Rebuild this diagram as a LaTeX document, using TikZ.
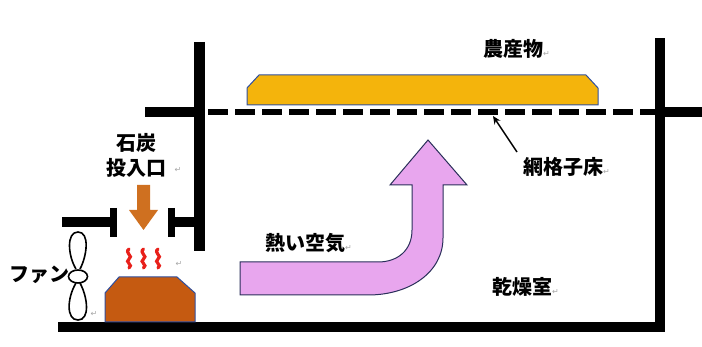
\documentclass[tikz,border=0pt]{standalone}
\usepackage{fontspec}
\setmainfont{Noto Sans CJK JP}
\newfontfamily\markfont{DejaVu Sans}
\usetikzlibrary{arrows.meta}

\definecolor{cropfill}{HTML}{F4B40C}
\definecolor{edgeblue}{HTML}{2F4F9F}
\definecolor{furnacefill}{HTML}{C55A11}
\definecolor{coalarrow}{HTML}{CF7020}
\definecolor{airfill}{HTML}{E8A6EE}
\definecolor{airedge}{HTML}{2A2F5A}
\definecolor{heatred}{HTML}{E8201A}

\tikzset{
  wall/.style={line width=10pt, black},
  chutepost/.style={line width=7pt, black},
  grid/.style={line width=6pt, black, dash pattern=on 20pt off 7pt},
  label/.style={font=\fontsize{20}{25}\selectfont\bfseries, inner sep=0pt, anchor=west},
  retmark/.style={font=\markfont\fontsize{8}{8}\selectfont, text=black!35, inner sep=0pt},
  heat/.style={heatred, line width=3.2pt, line cap=round},
  fanline/.style={black, line width=1.6pt},
}
\newcommand{\retm}{{\markfont\mdseries\fontsize{8}{8}\selectfont\textcolor{black!35}{↵}}}

\begin{document}
\begin{tikzpicture}[x=1pt, y=-1pt]
\useasboundingbox (0,0) rectangle (702,347);

% drying chamber: floor, right wall and stubs
\draw[wall, line join=miter] (58,327) -- (660,327) -- (660,38);
\draw[wall] (655,112) -- (702,112);
\draw[wall] (145,112) -- (204,112);
\draw[wall, line width=11pt] (199,42) -- (199,251);

% mesh floor
\draw[grid] (208,112) -- (655,112);
\coordinate (gridpt) at (493,116);

% coal feed chute
\draw[wall] (62,222) -- (111,222);
\draw[chutepost] (113.5,208) -- (113.5,237);
\draw[chutepost] (171.5,208) -- (171.5,237);
\draw[wall] (172,222) -- (199,222);

% produce on the mesh
\draw[edgeblue, line width=1pt, fill=cropfill]
  (247,105) -- (247,88) -- (259,75) -- (586,75) -- (598,88) -- (598,105) -- cycle;

% furnace
\draw[edgeblue, line width=1pt, fill=furnacefill]
  (105,322) -- (105,293) -- (119,277) -- (177,277) -- (195,293) -- (195,322) -- cycle;

% coal arrow
\fill[coalarrow] (137,185) -- (150,185) -- (150,210) -- (158,210) -- (143.5,230)
  -- (129,210) -- (137,210) -- cycle;

% heat waves
\foreach \hx in {129,143.5,158} {
  \draw[heat] (\hx,249) .. controls (\hx-5,253) and (\hx+5,256) .. (\hx,259)
    .. controls (\hx-5,262) and (\hx+5,265) .. (\hx,268);
}

% hot air arrow
\draw[airedge, line width=1pt, fill=airfill, line join=miter]
  (240,262) -- (378,262) .. controls (398,262) and (412,250) .. (412,230)
  -- (412,185) -- (390,185) -- (428,140) -- (467,185) -- (443,185) -- (443,238)
  .. controls (443,272) and (410,295) .. (368,295) -- (240,295) -- cycle;

% fan
\draw[fanline] (76,269) .. controls (68,256) and (66,232) .. (78,232)
  .. controls (90,232) and (87,256) .. (80,269);
\draw[fanline] (76,283) .. controls (67,298) and (66,320) .. (78,320)
  .. controls (90,320) and (88,298) .. (80,283);
\draw[fanline] (78,276.5) ellipse [x radius=9.5pt, y radius=6.5pt];

% labels
\node[label] (crop) at (483,49) {農産物\retm};
\node[label] (mesh) at (523,167) {網格子床\retm};
\node[label] (air) at (265,243) {熱い空気\retm};
\node[label] (room) at (492,287) {乾燥室\retm};
\node[label] (fan) at (9,275) {ファン};
\node[font=\fontsize{20}{25}\selectfont\bfseries, inner sep=0pt, align=center] (coal) at (136.5,155) {石炭\\投入口};

\node[retmark] (m1) at (178,170) {↵};
\node[retmark] (m2) at (179,264) {↵};
\node[retmark] (m3) at (94,314) {↵};

% pointer to the mesh floor
\draw[black, line width=1.5pt, -{Stealth[length=8pt, width=7pt]}] (517,152) -- (gridpt);

\end{tikzpicture}
\end{document}
